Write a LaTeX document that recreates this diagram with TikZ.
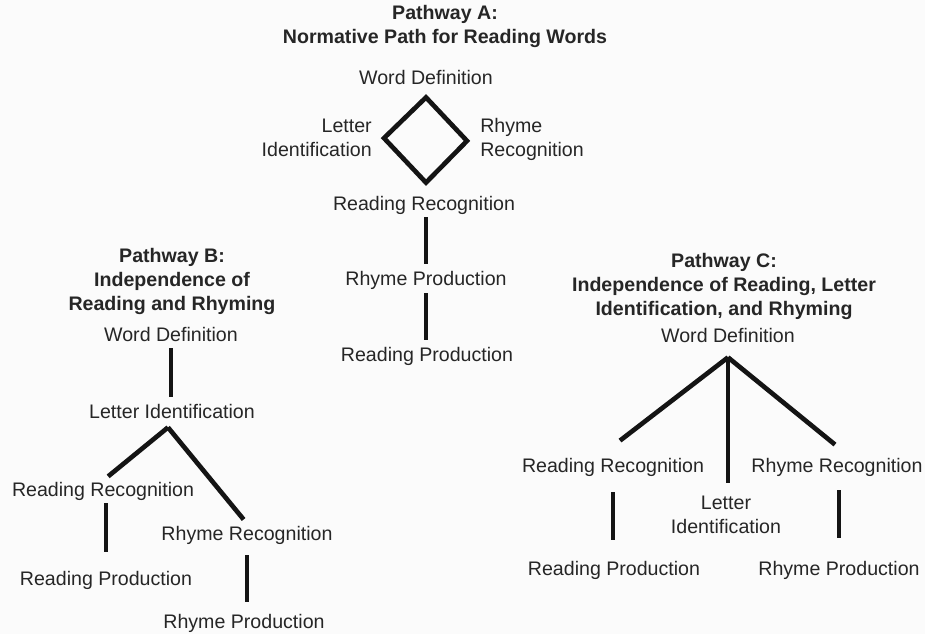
\documentclass[tikz,border=0pt]{standalone}
\usepackage{fontspec}
\setmainfont{Liberation Sans}
\usepackage{xcolor}
\usetikzlibrary{calc}
\definecolor{bgpage}{RGB}{251,251,251}
\definecolor{inkgray}{RGB}{38,38,38}

\begin{document}
\begin{tikzpicture}[x=0.75pt,y=-0.75pt,
  font=\fontsize{14.7}{18}\selectfont, text=inkgray,
  box/.style={inner sep=1.5pt,text height=10.6pt,text depth=3.1pt,anchor=base},
  stack/.style={inner sep=0pt},
  title/.style={inner sep=0pt,align=center,anchor=north,font=\fontsize{14.7}{18}\selectfont\bfseries},
  link/.style={draw=black!92,line width=3.5pt,line join=miter}]
\fill[bgpage] (0,0) rectangle (925,634);
\useasboundingbox (0,0) rectangle (925,634);
% pathway A: normative path
\node[title] (titA) at (445,5) {Pathway A:\\Normative Path for Reading Words};
\node[box] (wdA) at (426,85)  {Word Definition};
\node[stack,align=right,anchor=north east] (liA) at (372,119) {Letter\\Identification};
\node[stack,align=left,anchor=north west]  (rcA) at (480,118) {Rhyme\\Recognition};
\node[box] (rrA) at (424,211) {Reading Recognition};
\node[box] (rpA) at (426,286) {Rhyme Production};
\node[box] (rdA) at (427,362) {Reading Production};
% diamond corners
\coordinate (dtop)   at ($(wdA.south)+(0,6)$);
\coordinate (dbot)   at ($(rrA.north)+(2,-12)$);
\coordinate (dleft)  at ($(liA.east)+(12,0)$);
\coordinate (dright) at ($(rcA.west)+(-13,1.5)$);
\draw[link] (dtop) -- (dright) -- (dbot) -- (dleft) -- cycle;
% chain below the diamond
\draw[link,shorten >=4.5pt] (rpA.north |- rrA.south) -- (rpA.north);
\draw[link,shorten <=0.75pt,shorten >=4.5pt] (rpA.south) -- (rpA.south |- rdA.north);

% pathway B: reading and rhyming apart
\node[title] (titB) at (172,248) {Pathway B:\\Independence of\\Reading and Rhyming};
\node[box] (wdB) at (171,342) {Word Definition};
\node[box] (liB) at (172,419) {Letter Identification};
\node[box] (rrB) at (103,497) {Reading Recognition};
\node[box] (rcB) at (247,540) {Rhyme Recognition};
\node[box] (rdB) at (106,585) {Reading Production};
\node[box] (rpB) at (244,628) {Rhyme Production};
\coordinate (forkB) at ($(liB.south)+(-4,2)$);
\draw[link,shorten >=4.5pt] (wdB.south) -- (wdB.south |- liB.north);
\draw[link,shorten >=5pt] (forkB) -- (rrB.north);
\draw[link,shorten >=4pt] (forkB) -- (rcB.north);
\draw[link,shorten >=12.75pt] (rdB.north |- rrB.south) -- (rdB.north);
\draw[link,shorten <=6.75pt,shorten >=7.5pt] (rcB.south) -- (rcB.south |- rpB.north);

% pathway C: all three apart
\node[title] (titC) at (724,253) {Pathway C:\\Independence of Reading, Letter\\Identification, and Rhyming};
\node[box] (wdC) at (728,343) {Word Definition};
\node[box] (rrC) at (613,473) {Reading Recognition};
\node[box] (rhC) at (837,473) {Rhyme Recognition};
\node[stack,align=center,anchor=north] (liC) at (726,496) {Letter\\Identification};
\node[box] (rdC) at (614,575) {Reading Production};
\node[box] (rpC) at (839,575) {Rhyme Production};
\coordinate (forkC) at ($(wdC.south)+(0,8)$);
\draw[link] (forkC) -- ($(rrC.north)+(7,-16)$);
\draw[link] (forkC) -- ($(rhC.north)+(-2,-12)$);
\draw[link,shorten >=9.75pt] (forkC) -- (forkC |- liC.north);
\draw[link,shorten <=9.75pt,shorten >=14.25pt] (rrC.south) -- (rrC.south |- rdC.north);
\draw[link,shorten <=8.25pt,shorten >=15.75pt] (rpC.north |- rhC.south) -- (rpC.north);
\end{tikzpicture}
\end{document}
